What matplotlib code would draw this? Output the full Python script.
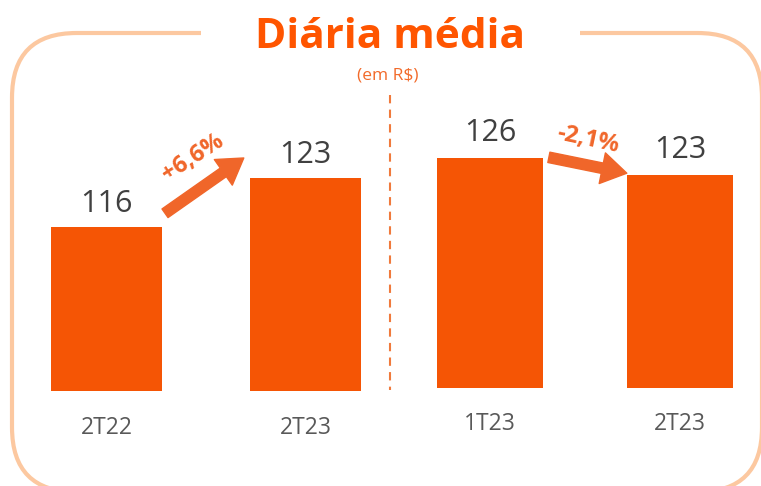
import matplotlib
matplotlib.use("Agg")
import matplotlib.pyplot as plt
from matplotlib.patches import FancyBboxPatch, Rectangle
from matplotlib.lines import Line2D

plt.rcParams['font.family'] = ['Open Sans', 'DejaVu Sans']

# dados
cats_a = ['2T22', '2T23']
vals_a = [116, 123]
cats_b = ['1T23', '2T23']
vals_b = [126, 123]
var_a = '+6,6%'
var_b = '-2,1%'

laranja = '#F55505'
seta = '#F0662A'
borda = '#FCC8A0'
cinza = '#404040'

W, H = 761, 486
fig = plt.figure(figsize=(W / 100, H / 100), dpi=100)

def fx(px):
    return px / W

def fy(py):
    return 1 - py / H

# moldura arredondada
box = FancyBboxPatch((fx(12), fy(492)), fx(750), fy(33) - fy(492),
                     boxstyle="round,pad=0,rounding_size=0.085",
                     transform=fig.transFigure, fill=False,
                     ec=borda, lw=3, mutation_aspect=W / H, zorder=1)
fig.patches.append(box)
fig.patches.append(Rectangle((fx(201), fy(45)), fx(580) - fx(201), fy(20) - fy(45),
                             transform=fig.transFigure, fc='white', ec='none', zorder=2))

fig.text(fx(390), fy(37), 'Diária média', ha='center', va='center',
         fontsize=30.5, fontweight='bold', color='#FF5500', zorder=3)
fig.text(fx(388), fy(75), '(em R$)', ha='center', va='center',
         fontsize=12.5, color='#F26A2A')

# linha tracejada
fig.lines.append(Line2D([fx(390), fx(390)], [fy(95), fy(390)], transform=fig.transFigure,
                        color='#F07A3C', lw=1.5, ls=(0, (4, 3))))

# eixo da esquerda (ano contra ano)
axA = fig.add_axes([fx(20), fy(391), fx(390) - fx(20), fy(95) - fy(391)])
axA.set_xlim(-0.435, 1.425)
axA.set_ylim(92.6, 134.9)
axA.bar(range(2), vals_a, width=0.558, color=laranja)
for i, v in enumerate(vals_a):
    axA.text(i, v + 1.15, str(v), ha='center', va='bottom', fontsize=22, color=cinza)
    axA.text(i, 92.6 - 5.3, cats_a[i], ha='center', va='center', fontsize=16.5, color='#595959')

# eixo da direita (trimestre contra trimestre)
axB = fig.add_axes([fx(390), fy(388), fx(757) - fx(390), fy(95) - fy(388)])
axB.set_xlim(-0.526, 1.405)
axB.set_ylim(85.4, 137.1)
axB.bar(range(2), vals_b, width=0.558, color=laranja)
for i, v in enumerate(vals_b):
    axB.text(i, v + 1.7, str(v), ha='center', va='bottom', fontsize=22, color=cinza)
    axB.text(i, 85.4 - 6.4, cats_b[i], ha='center', va='center', fontsize=16.5, color='#595959')

for ax in (axA, axB):
    ax.axis('off')
    ax.patch.set_alpha(0)

# setas de variacao
estilo = 'simple,head_length=1.0,head_width=1.25,tail_width=0.42'
axA.annotate('', xy=(0.69, 125.9), xytext=(0.294, 118.0),
             arrowprops=dict(arrowstyle=estilo, color=seta, mutation_scale=18,
                             shrinkA=0, shrinkB=0),
             annotation_clip=False)
axA.text(0.435, 126.0, var_a, rotation=33, ha='center', va='center',
         fontsize=17, fontweight='bold', color=seta)

axB.annotate('', xy=(0.72, 123.3), xytext=(0.31, 126.1),
             arrowprops=dict(arrowstyle=estilo, color=seta, mutation_scale=18,
                             shrinkA=0, shrinkB=0),
             annotation_clip=False)
axB.text(0.515, 129.2, var_b, rotation=-12, ha='center', va='center',
         fontsize=17, fontweight='bold', color=seta)

fig.savefig('out.png', dpi=100, facecolor='white')
